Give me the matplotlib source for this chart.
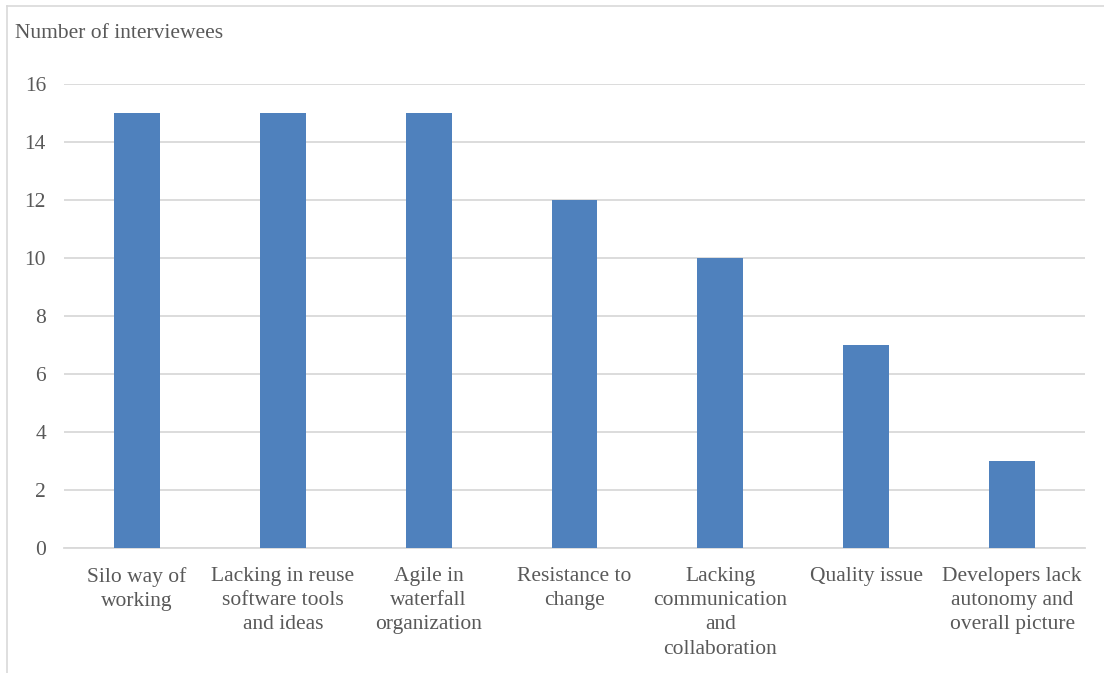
import matplotlib
matplotlib.use("Agg")
import matplotlib.pyplot as plt
from matplotlib.lines import Line2D

categories = ["Silo way of\nworking", "Lacking in reuse\nsoftware tools\nand ideas", "Agile in\nwaterfall\norganization",
              "Resistance to\nchange", "Lacking\ncommunication\nand\ncollaboration", "Quality issue",
              "Developers lack\nautonomy and\noverall picture"]
values = [15, 15, 15, 12, 10, 7, 3]
yticks = [0, 2, 4, 6, 8, 10, 12, 14, 16]

plt.rcParams['font.family'] = ['Liberation Serif', 'DejaVu Serif']
txt = '#595959'
fs = 15.5

W, H = 1104, 673
fig = plt.figure(figsize=(W/100, H/100), dpi=100)
ax = fig.add_axes([64/W, 1-548/H, (1085-64)/W, (548-84)/H])

x = list(range(len(categories)))
ax.bar(x, values, width=0.315, color='#4F81BD', zorder=3)
ax.set_xlim(-0.5, len(categories)-0.5)
ax.set_ylim(0, 16)
ax.set_yticks(yticks)
ax.set_yticklabels([str(t) for t in yticks], color=txt, fontsize=fs)
ax.set_xticks(x)
ax.set_xticklabels(categories, color=txt, fontsize=fs, linespacing=1.38)
ax.grid(axis='y', color='#D9D9D9', linewidth=1.3, zorder=0)
for s in ['top', 'right', 'left']:
    ax.spines[s].set_visible(False)
ax.spines['bottom'].set_color('#D9D9D9')
ax.spines['bottom'].set_linewidth(1.3)
ax.tick_params(axis='both', length=0)
ax.tick_params(axis='y', pad=13)
ax.tick_params(axis='x', pad=13.5)

fig.text(15/W, 1-33/H, "Number of interviewees", color=txt, fontsize=fs, va='center', ha='left')

fig.add_artist(Line2D([7/W, 1], [1-6/H, 1-6/H], color='#D9D9D9', linewidth=1.2, transform=fig.transFigure))
fig.add_artist(Line2D([7/W, 7/W], [0, 1-6/H], color='#D9D9D9', linewidth=1.2, transform=fig.transFigure))

fig.savefig("out.png", dpi=100)
